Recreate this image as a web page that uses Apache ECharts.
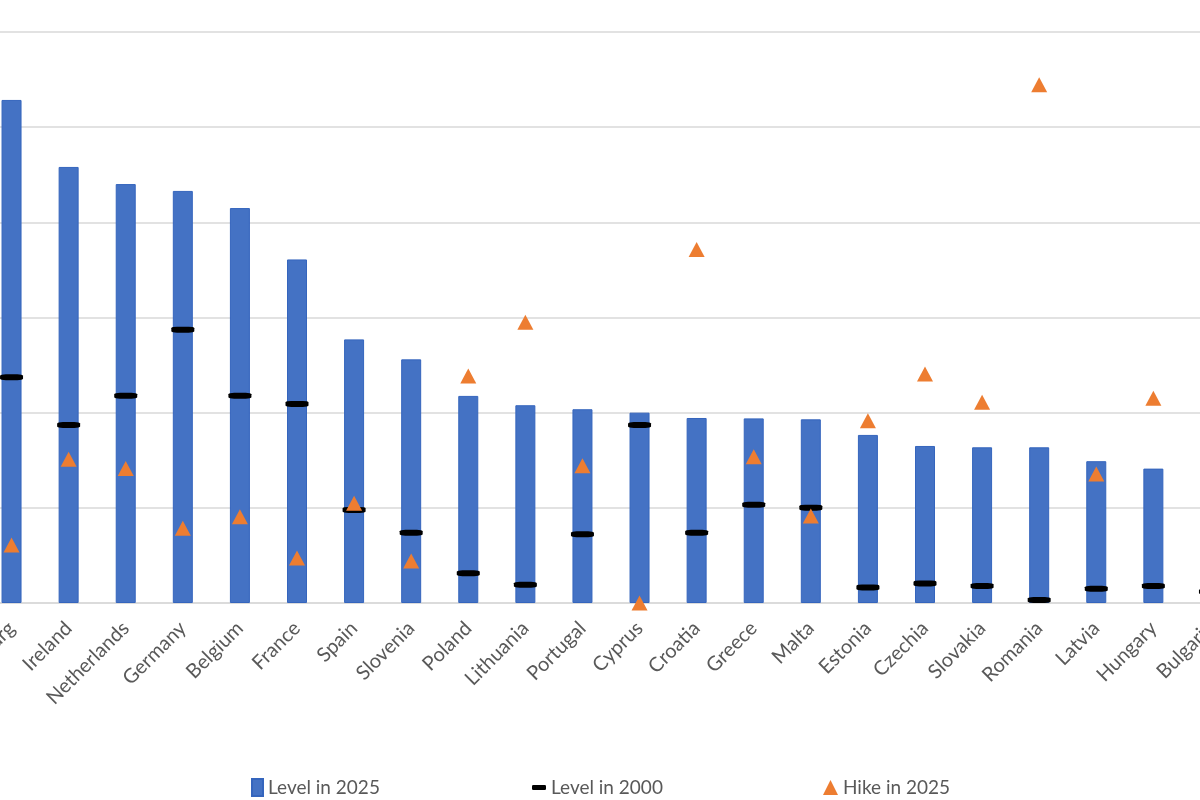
<!DOCTYPE html>
<html>
<head>
<meta charset="utf-8">
<script src="https://cdn.jsdelivr.net/npm/echarts@6/dist/echarts.min.js"></script>
<style>
  html, body { margin: 0; padding: 0; background: #ffffff; }
  #chart { width: 1200px; height: 800px; }
</style>
</head>
<body>
<div id="chart"></div>
<script>
const categories = ['Luxembourg','Ireland','Netherlands','Germany','Belgium','France','Spain','Slovenia','Poland','Lithuania','Portugal','Cyprus','Croatia','Greece','Malta','Estonia','Czechia','Slovakia','Romania','Latvia','Hungary','Bulgaria'];
const level2025 = [2643, 2291, 2201, 2165, 2075, 1805, 1385, 1280, 1088, 1039, 1018, 1000, 972, 970, 965, 883, 825, 818, 818, 745, 706, 551];
const level2000 = [1186, 935, 1089, 1436, 1089, 1046, 489, 369, 156, 96, 361, 935, 369, 516, 501, 82, 103, 89, 16, 75, 89, 60];
const hike2025 = [2.64, 6.54, 6.13, 3.40, 3.93, 2.05, 4.54, 1.91, 10.34, 12.78, 6.25, 0, 16.1, 6.66, 3.96, 8.3, 10.43, 9.14, 23.6, 5.87, 9.32, 15.2];

const chart = echarts.init(document.getElementById('chart'));
const font = 'Lato, "Open Sans", "Liberation Sans", sans-serif';
const legendText = { color: '#595959', fontSize: 19, fontFamily: font };

chart.setOption({
  animation: false,
  backgroundColor: '#ffffff',
  grid: { left: -17, right: -39, top: 32, bottom: 197, containLabel: false, outerBoundsMode: 'none' },
  legend: [
    { data: ['Level in 2025'], left: 246, top: 773, itemWidth: 11, itemHeight: 17, itemGap: 0, textStyle: legendText, icon: 'rect' },
    { data: ['Level in 2000'], left: 527, top: 773, itemWidth: 14, itemHeight: 5, textStyle: legendText, icon: 'roundRect' },
    { data: ['Hike in 2025'], left: 818, top: 773, itemWidth: 15, itemHeight: 15, textStyle: legendText, icon: 'triangle' }
  ],
  xAxis: {
    type: 'category',
    data: categories,
    axisLine: { show: true, lineStyle: { color: '#d9d9d9', width: 1.5 } },
    axisTick: { show: false },
    axisLabel: { rotate: 45, color: '#595959', fontSize: 20, fontFamily: font, margin: 22, interval: 0 }
  },
  yAxis: [
    {
      type: 'value', min: 0, max: 3000, interval: 500,
      axisLabel: { show: false }, axisLine: { show: false }, axisTick: { show: false },
      splitLine: { lineStyle: { color: '#d9d9d9', width: 1.5 } }
    },
    {
      type: 'value', min: 0, max: 26, interval: 26 / 6,
      show: false, splitLine: { show: false }
    }
  ],
  series: [
    {
      name: 'Level in 2025', type: 'bar', data: level2025, barWidth: 20,
      itemStyle: { color: '#4472C4', borderColor: '#3565bd', borderWidth: 1 },
      z: 2
    },
    {
      name: 'Level in 2000', type: 'scatter', data: level2000,
      symbol: 'roundRect', symbolSize: [23, 6],
      itemStyle: { color: '#000000', opacity: 1 },
      z: 3
    },
    {
      name: 'Hike in 2025', type: 'scatter', yAxisIndex: 1, data: hike2025,
      symbol: 'triangle', symbolSize: [16, 15],
      itemStyle: { color: '#ED7D31', opacity: 1 },
      z: 4
    }
  ]
});
</script>
</body>
</html>
